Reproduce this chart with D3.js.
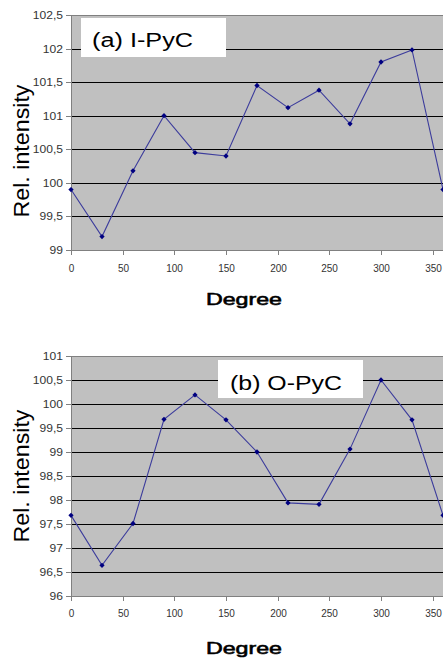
<!DOCTYPE html>
<html><head><meta charset="utf-8">
<script src="https://cdn.jsdelivr.net/npm/d3@7"></script>
<style>body{margin:0;background:#fff}svg{display:block}text{font-family:"Liberation Sans",Arial,sans-serif}</style>
</head><body><svg id="c" width="443" height="661"></svg>
<script>
const degrees = [0,30,60,90,120,150,180,210,240,270,300,330,360];
const seriesA = [99.9,99.2,100.18,101.0,100.45,100.4,101.45,101.12,101.38,100.88,101.8,101.98,99.9];
const seriesB = [97.68,96.64,97.51,99.68,100.19,99.67,99.0,97.94,97.91,99.06,100.5,99.67,97.68];
const xTicks = [0,50,100,150,200,250,300,350];
const yTicksA = [99,99.5,100,100.5,101,101.5,102,102.5];
const yTicksB = [96,96.5,97,97.5,98,98.5,99,99.5,100,100.5,101];
const titleA = "(a) I-PyC", titleB = "(b) O-PyC";
const yLabel = "Rel. intensity", xLabel = "Degree";

const svg = d3.select("#c");
const fmt = v => String(v).replace(".", ",");

function panel(cfg){
  const g = svg.append("g");
  const x = d3.scaleLinear().domain([0,360]).range([71,443]);
  const y = d3.scaleLinear().domain(cfg.domain).range([cfg.bottom, cfg.top]);
  g.append("rect").attr("x",71).attr("y",cfg.top).attr("width",372).attr("height",cfg.bottom-cfg.top).attr("fill","#c0c0c0");
  g.selectAll(".grid").data(cfg.yTicks.slice(1,-1)).join("line")
    .attr("x1",71).attr("x2",443).attr("y1",d=>Math.round(y(d))+0.5).attr("y2",d=>Math.round(y(d))+0.5)
    .attr("stroke","#000").attr("stroke-width",1.2);
  g.append("line").attr("x1",71).attr("x2",443).attr("y1",cfg.top+0.5).attr("y2",cfg.top+0.5).attr("stroke","#808080");
  g.append("line").attr("x1",71).attr("x2",443).attr("y1",cfg.bottom+0.5).attr("y2",cfg.bottom+0.5).attr("stroke","#808080");
  g.append("line").attr("x1",71.5).attr("x2",71.5).attr("y1",cfg.top).attr("y2",cfg.bottom+0.5).attr("stroke","#808080");
  const yt = g.selectAll(".yt").data(cfg.yTicks).join("g").attr("transform",d=>`translate(0,${Math.round(y(d))+0.5})`);
  yt.append("line").attr("x1",66).attr("x2",71).attr("stroke","#808080");
  yt.append("text").attr("transform","translate(63,0) scale(1.15,1)").attr("text-anchor","end").attr("dy","0.35em")
    .attr("font-size",10.5).attr("fill","#333").text(fmt);
  const xt = g.selectAll(".xt").data(xTicks).join("g").attr("transform",d=>`translate(${Math.round(x(d))+0.5},${cfg.bottom})`);
  xt.append("line").attr("y1",0).attr("y2",5).attr("stroke","#808080");
  xt.append("text").attr("y",cfg.xTickBase-cfg.bottom).attr("text-anchor","middle").attr("font-size",10).attr("fill","#333").text(d=>d);
  g.append("rect").attr("x",cfg.box[0]).attr("y",cfg.box[1]).attr("width",cfg.box[2]).attr("height",cfg.box[3]).attr("fill","#fff");
  g.append("text").attr("x",cfg.titlePos[0]).attr("y",cfg.titlePos[1]).attr("font-size",20).attr("fill","#000")
    .attr("textLength",cfg.titleLen).attr("lengthAdjust","spacingAndGlyphs").text(cfg.title);
  const pts = degrees.map((d,i)=>[d,cfg.values[i]]);
  g.append("path").datum(pts).attr("fill","none").attr("stroke","#3c3c9c").attr("stroke-width",1.1)
    .attr("d",d3.line().x(d=>x(d[0])).y(d=>y(d[1])));
  g.selectAll(".pt").data(pts).join("path")
    .attr("transform",d=>`translate(${x(d[0])},${y(d[1])}) rotate(45)`)
    .attr("d",d3.symbol(d3.symbolSquare,14)).attr("fill","#000080");
  g.append("text").attr("transform",`translate(29,${cfg.yLabelC}) rotate(-90)`).attr("text-anchor","middle")
    .attr("font-size",22).attr("fill","#000").attr("textLength",133).attr("lengthAdjust","spacingAndGlyphs").text(yLabel);
  g.append("text").attr("x",206).attr("y",cfg.xLabelBase).attr("font-size",17).attr("fill","#000")
    .attr("stroke","#000").attr("stroke-width",0.6)
    .attr("textLength",76).attr("lengthAdjust","spacingAndGlyphs").text(xLabel);
}

panel({domain:[99,102.5], top:15, bottom:250, yTicks:yTicksA, values:seriesA, xTickBase:272,
  box:[81,18,145,39], title:titleA, titlePos:[92,47], titleLen:101, yLabelC:151, xLabelBase:305});
panel({domain:[96,101], top:356, bottom:596, yTicks:yTicksB, values:seriesB, xTickBase:617,
  box:[218,360,145,38], title:titleB, titlePos:[230,390], titleLen:112, yLabelC:476, xLabelBase:654});
</script></body></html>
